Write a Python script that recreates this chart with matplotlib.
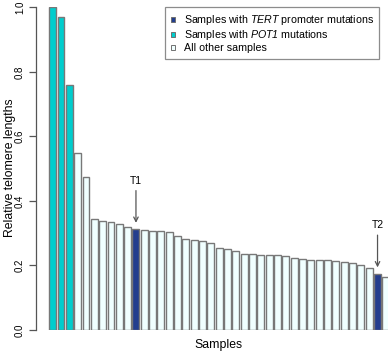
import matplotlib
matplotlib.use("Agg")
import matplotlib.pyplot as plt
from matplotlib.patches import Patch
import numpy as np

plt.rcParams['font.family'] = ['Liberation Sans', 'DejaVu Sans']
plt.rcParams['mathtext.fontset'] = 'custom'
plt.rcParams['mathtext.rm'] = 'Liberation Sans:italic'
plt.rcParams['mathtext.it'] = 'Liberation Sans:italic'

values = [1.0, 0.971, 0.759, 0.547, 0.473, 0.343, 0.339, 0.334, 0.328, 0.320,
          0.312, 0.310, 0.308, 0.307, 0.303, 0.290, 0.281, 0.278, 0.276, 0.269,
          0.254, 0.252, 0.246, 0.235, 0.235, 0.232, 0.231, 0.231, 0.229, 0.224,
          0.219, 0.218, 0.217, 0.216, 0.214, 0.210, 0.209, 0.200, 0.191, 0.174,
          0.165]
groups = ['POT1', 'POT1', 'POT1'] + ['other'] * 7 + ['TERT'] + ['other'] * 28 + ['TERT', 'other']
group_colors = {'TERT': '#233E8E', 'POT1': '#00CDCD', 'other': '#F0FFFF'}
legend_labels = ['Samples with $\\it{TERT}$ promoter mutations',
                 'Samples with $\\it{POT1}$ mutations',
                 'All other samples']
yticks = [0.0, 0.2, 0.4, 0.6, 0.8, 1.0]
annotations = [('T1', 10), ('T2', 39)]

W, H = 388, 353
fig = plt.figure(figsize=(W / 100, H / 100), dpi=100)
# axes: y=0 at px 330, y=1 at px 7.3 ; x axis line at px 36
px_per_unit = 8.33
x_left_px = 36
xmin = -2.0
xmax = 42.0
ax_w = (xmax - xmin) * px_per_unit
ax = fig.add_axes([x_left_px / W, (H - 330) / H, ax_w / W, (330 - 7.3) / H])

x = np.arange(len(values))
cols = [group_colors[g] for g in groups]
ax.bar(x, values, width=0.833, color=cols, edgecolor='#787878', linewidth=1.0, zorder=2)

ax.set_xlim(xmin, xmax)
ax.set_ylim(0, 1)
for s in ['top', 'right', 'bottom']:
    ax.spines[s].set_visible(False)
ax.spines['left'].set_bounds(0, 1)
ax.spines['left'].set_color('#555555')
ax.spines['left'].set_linewidth(0.9)
ax.set_xticks([])
ax.set_yticks(yticks)
ax.set_yticklabels([f'{t:.1f}' for t in yticks], rotation=90, va='center', fontsize=7)
ax.tick_params(axis='y', length=5, width=0.9, color='#555555', pad=3)

fig.text(10 / W, 1 - 168 / H, 'Relative telomere lengths', rotation=90,
         ha='center', va='center', fontsize=8.8)
fig.text(218 / W, 1 - 345 / H, 'Samples', ha='center', va='center', fontsize=8.8)

for label, idx in annotations:
    v = values[idx]
    ax.annotate('', xy=(idx, v + 0.02), xytext=(idx, v + 0.12),
                arrowprops=dict(arrowstyle='->', color='#555555', lw=0.9,
                                mutation_scale=8, shrinkA=0, shrinkB=0))
    ax.text(idx, v + 0.15, label, ha='center', va='center', fontsize=7.5)

handles = [Patch(facecolor=group_colors[k], edgecolor='#707070', linewidth=0.7)
           for k in ['TERT', 'POT1', 'other']]
leg = fig.legend(handles, legend_labels, loc='upper left',
                 bbox_to_anchor=(165 / W, 1 - 7.3 / H),
                 fontsize=7.65, frameon=True, fancybox=False,
                 handlelength=0.4, handleheight=0.4, handletextpad=0.8,
                 borderpad=0.55, labelspacing=0.1, borderaxespad=0)
leg.get_frame().set_edgecolor('#707070')
leg.get_frame().set_linewidth(0.9)

fig.savefig('out.png', dpi=100)
